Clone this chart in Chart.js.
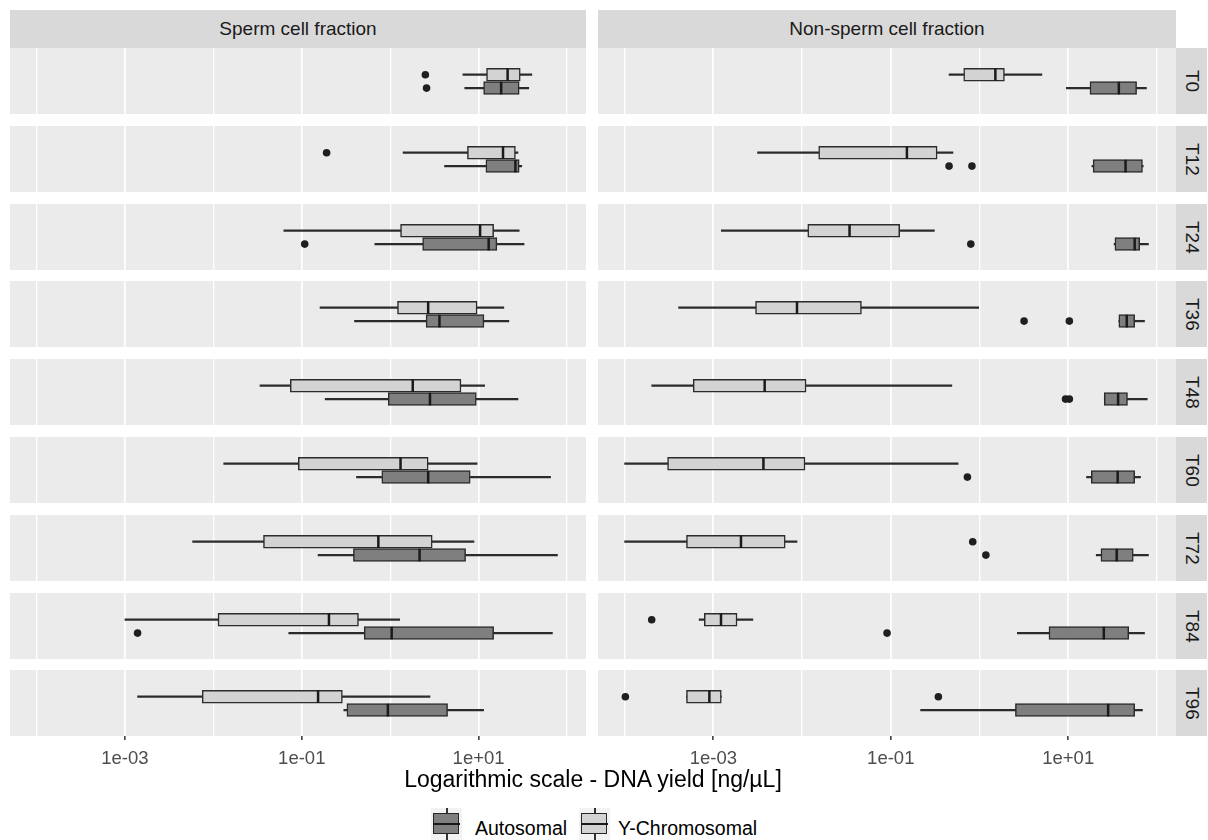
<!DOCTYPE html>
<html>
<head>
<meta charset="utf-8">
<title>DNA yield boxplots</title>
<script src="https://cdn.jsdelivr.net/npm/chart.js@4.4.0/dist/chart.umd.min.js"></script>
<style>
  html, body { margin: 0; padding: 0; background: #fff; }
  body {
    width: 1208px;
    height: 840px;
    position: relative;
    overflow: hidden;
    font-family: 'Liberation Sans', Arial, sans-serif;
  }
  canvas { position: absolute; }
  .strip {
    position: absolute;
    background: #d9d9d9;
    color: #1a1a1a;
    font-size: 19px;
    display: flex;
    align-items: center;
    justify-content: center;
  }
  .strip.side { writing-mode: vertical-rl; }
  .title {
    position: absolute;
    left: 10px;
    width: 1166px;
    top: 766px;
    text-align: center;
    font-size: 23px;
    line-height: 27px;
    color: #000;
  }
  .key {
    position: absolute;
    top: 808px;
    width: 31px;
    height: 34px;
    background: #f2f2f2;
  }
  .key .whisker {
    position: absolute;
    left: 15px;
    width: 1.5px;
    top: 0;
    height: 34px;
    background: #333;
  }
  .key .box {
    position: absolute;
    left: 2px;
    width: 24px;
    top: 5px;
    height: 19px;
    border: 1.5px solid #262626;
  }
  .key .median {
    position: absolute;
    left: 2px;
    width: 27px;
    top: 15px;
    height: 2px;
    background: #1a1a1a;
  }
  .key-label {
    position: absolute;
    top: 817px;
    font-size: 19.5px;
    line-height: 22px;
    color: #000;
  }
</style>
</head>
<body>
<script>
// facets and series
const fractions = ['Sperm cell fraction', 'Non-sperm cell fraction']
const times = ['T0', 'T12', 'T24', 'T36', 'T48', 'T60', 'T72', 'T84', 'T96']
const seriesNames = ['Autosomal', 'Y-Chromosomal']

// x axis (DNA yield, ng/uL, log scale)
const gridValues = [1e-4, 1e-3, 1e-2, 1e-1, 1, 10, 100]
const tickLabels = ['', '1e-03', '', '1e-01', '', '1e+01', '']
const xMin = Math.pow(10, -4.3)
const xMax = Math.pow(10, 2.215)

// box stats per time point: [min, q1, median, q3, max]
const spermY = [
  [6.65, 12.3, 21.3, 29.6, 40.0],
  [1.40, 7.48, 18.9, 26.1, 27.9],
  [0.0627, 1.31, 10.4, 14.8, 28.8],
  [0.161, 1.21, 2.69, 9.62, 19.3],
  [0.0337, 0.0741, 1.80, 6.32, 11.7],
  [0.0131, 0.0914, 1.31, 2.69, 9.62],
  [0.00583, 0.0369, 0.735, 2.99, 8.87],
  [0.00100, 0.0113, 0.203, 0.438, 1.28],
  [0.00139, 0.00748, 0.153, 0.288, 2.82],
]
const spermAuto = [
  [6.98, 11.4, 18.0, 28.8, 36.9],
  [4.12, 12.1, 26.1, 28.8, 30.8],
  [0.671, 2.33, 13.0, 16.1, 32.7],
  [0.395, 2.55, 3.61, 11.5, 22.0],
  [0.184, 0.951, 2.82, 9.42, 27.9],
  [0.416, 0.804, 2.69, 8.04, 65.2],
  [0.153, 0.384, 2.15, 7.13, 78.0],
  [0.0713, 0.508, 1.04, 14.8, 68.4],
  [0.299, 0.324, 0.942, 4.46, 11.4],
]
const nonSpermY = [
  [0.454, 0.664, 1.51, 1.91, 5.05],
  [0.00315, 0.0154, 0.152, 0.333, 0.502],
  [0.00123, 0.0116, 0.0343, 0.126, 0.310],
  [0.000406, 0.00299, 0.00877, 0.0467, 0.979],
  [0.000202, 0.000593, 0.00379, 0.0111, 0.488],
  [0.000100, 0.000305, 0.00367, 0.0108, 0.574],
  [0.000100, 0.000498, 0.00205, 0.00646, 0.00877],
  [0.000692, 0.000791, 0.00122, 0.00185, 0.00279],
  [0.000498, 0.000498, 0.000902, 0.00123, 0.00123],
]
const nonSpermAuto = [
  [9.53, 17.6, 37.2, 59.0, 76.2],
  [18.5, 19.1, 44.3, 68.7, 70.1],
  [32.9, 33.6, 56.1, 64.0, 80.2],
  [37.2, 37.2, 45.7, 56.1, 72.4],
  [25.5, 25.5, 36.5, 46.6, 77.8],
  [16.1, 18.2, 36.1, 56.1, 65.3],
  [20.7, 23.4, 35.2, 54.1, 80.2],
  [2.67, 6.07, 25.2, 48.1, 72.4],
  [0.217, 2.54, 28.2, 56.1, 68.7],
]

// outliers per time point
const spermYOut = [[2.50], [0.191], [], [], [], [], [], [], []]
const spermAutoOut = [[2.58], [], [0.108], [], [], [], [], [0.00139], []]
const nonSpermYOut = [[], [], [], [], [], [], [0.839], [0.000202], [0.000102, 0.344]]
const nonSpermAutoOut = [[], [0.454, 0.822], [0.798], [3.18, 10.3], [9.33, 10.3], [0.731], [1.18], [0.0908], []]

// layout
const PANEL_X = [10, 598]
const PANEL_W = [576, 578]
const HEADER_TOP = 10
const HEADER_H = 38
const ROW_TOP = 48
const ROW_PITCH = 77.8
const ROW_H = 66
const AXIS_H = 36
const SIDE_X = 1176
const SIDE_W = 31

// styles
const PANEL_BG = '#ebebeb'
const FILL_AUTO = '#7f7f7f'
const FILL_Y = '#d3d3d3'
const LINE = '#2b2b2b'
const POS_Y = 0.19
const POS_AUTO = -0.215
const FONT = "'Liberation Sans', Arial, sans-serif"

const panelTable = [
  { y: spermY, auto: spermAuto, yOut: spermYOut, autoOut: spermAutoOut },
  { y: nonSpermY, auto: nonSpermAuto, yOut: nonSpermYOut, autoOut: nonSpermAutoOut },
]

const panelBackground = {
  id: 'panelBackground',
  beforeDraw(chart) {
    const { ctx, chartArea: a } = chart
    ctx.save()
    ctx.fillStyle = PANEL_BG
    ctx.fillRect(a.left, a.top, a.right - a.left, a.bottom - a.top)
    ctx.restore()
  },
}

function addDiv(cls, text, left, top, width, height) {
  const el = document.createElement('div')
  el.className = cls
  el.textContent = text
  el.style.left = left + 'px'
  el.style.top = top + 'px'
  if (width != null) el.style.width = width + 'px'
  if (height != null) el.style.height = height + 'px'
  document.body.appendChild(el)
  return el
}

function makePanel(col, row) {
  const isBottom = row === times.length - 1
  const w = PANEL_W[col]
  const h = ROW_H + (isBottom ? AXIS_H : 0)
  const top = Math.round(ROW_TOP + row * ROW_PITCH)
  const canvas = document.createElement('canvas')
  canvas.width = w
  canvas.height = h
  canvas.style.left = PANEL_X[col] + 'px'
  canvas.style.top = top + 'px'
  canvas.style.width = w + 'px'
  canvas.style.height = h + 'px'
  document.body.appendChild(canvas)

  const src = panelTable[col]
  const ys = src.y[row]
  const as = src.auto[row]
  const outliers = src.yOut[row]
    .map((v) => ({ x: v, y: POS_Y }))
    .concat(src.autoOut[row].map((v) => ({ x: v, y: POS_AUTO })))

  new Chart(canvas, {
    type: 'bar',
    data: {
      datasets: [
        {
          type: 'bar',
          label: 'whiskers',
          data: [
            { x: [ys[0], ys[4]], y: POS_Y },
            { x: [as[0], as[4]], y: POS_AUTO },
          ],
          backgroundColor: LINE,
          borderWidth: 0,
          barThickness: 1.6,
          grouped: false,
          order: 3,
        },
        {
          type: 'bar',
          label: 'boxes',
          data: [
            { x: [ys[1], ys[3]], y: POS_Y },
            { x: [as[1], as[3]], y: POS_AUTO },
          ],
          backgroundColor: [FILL_Y, FILL_AUTO],
          borderColor: LINE,
          borderWidth: 1.5,
          borderSkipped: false,
          barThickness: 12.8,
          grouped: false,
          order: 2,
        },
        {
          type: 'scatter',
          label: 'medians',
          data: [
            { x: ys[2], y: POS_Y },
            { x: as[2], y: POS_AUTO },
          ],
          pointStyle: 'line',
          rotation: 90,
          pointRadius: 6.3,
          borderColor: '#1a1a1a',
          borderWidth: 2.5,
          order: 1,
        },
        {
          type: 'scatter',
          label: 'outliers',
          data: outliers,
          pointRadius: 3.8,
          backgroundColor: '#1f1f1f',
          borderWidth: 0,
          order: 0,
        },
      ],
    },
    options: {
      indexAxis: 'y',
      responsive: false,
      animation: false,
      events: [],
      layout: { padding: 0, autoPadding: false },
      plugins: { legend: { display: false }, tooltip: { enabled: false } },
      scales: {
        x: {
          type: 'logarithmic',
          min: xMin,
          max: xMax,
          offset: false,
          beginAtZero: false,
          afterBuildTicks: (axis) => {
            axis.ticks = gridValues.map((v) => ({ value: v }))
          },
          afterFit: (axis) => {
            axis.height = isBottom ? AXIS_H : 0
          },
          border: { display: false },
          grid: {
            color: '#ffffff',
            lineWidth: (ctx) => (tickLabels[ctx.index] ? 1.7 : 1.3),
            drawTicks: isBottom,
            tickLength: 4,
            tickWidth: 1.5,
            tickColor: (ctx) => (tickLabels[ctx.index] ? '#333333' : 'rgba(0,0,0,0)'),
          },
          ticks: {
            display: isBottom,
            autoSkip: false,
            maxRotation: 0,
            padding: 8,
            color: '#4d4d4d',
            font: { family: FONT, size: 18.5 },
            callback: (value, index) => tickLabels[index],
          },
        },
        y: {
          type: 'linear',
          min: -1,
          max: 1,
          offset: false,
          display: false,
        },
      },
    },
    plugins: [panelBackground],
  })
}

// strips
fractions.forEach((name, col) => {
  addDiv('strip', name, PANEL_X[col], HEADER_TOP, PANEL_W[col], HEADER_H)
})
times.forEach((t, row) => {
  const top = Math.round(ROW_TOP + row * ROW_PITCH)
  addDiv('strip side', t, SIDE_X, top, SIDE_W, ROW_H)
})

// panels
fractions.forEach((f, col) => {
  times.forEach((t, row) => makePanel(col, row))
})

// axis title
addDiv('title', 'Logarithmic scale - DNA yield [ng/µL]', 10, 766)

// legend
const legendKeys = [
  { name: seriesNames[0], fill: FILL_AUTO, keyX: 431, textX: 475 },
  { name: seriesNames[1], fill: FILL_Y, keyX: 579, textX: 618 },
]
legendKeys.forEach((k) => {
  const key = addDiv('key', '', k.keyX, 808)
  const whisker = document.createElement('div')
  whisker.className = 'whisker'
  key.appendChild(whisker)
  const box = document.createElement('div')
  box.className = 'box'
  box.style.background = k.fill
  key.appendChild(box)
  const median = document.createElement('div')
  median.className = 'median'
  key.appendChild(median)
  addDiv('key-label', k.name, k.textX, 817)
})
</script>
</body>
</html>
